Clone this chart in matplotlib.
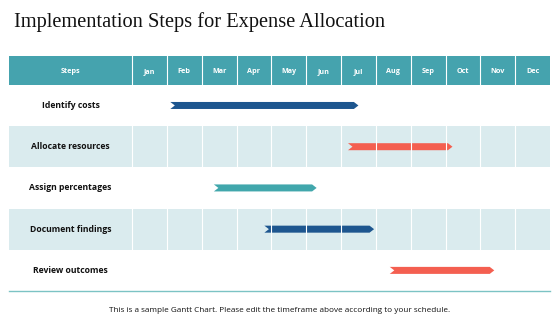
import matplotlib
matplotlib.use("Agg")
import matplotlib.pyplot as plt
from matplotlib.patches import Rectangle, Polygon

months = ["Jan", "Feb", "Mar", "Apr", "May", "Jun", "Jul", "Aug", "Sep", "Oct", "Nov", "Dec"]
steps = ["Identify costs", "Allocate resources", "Assign percentages", "Document findings", "Review outcomes"]
start = [1.1, 6.2, 2.35, 3.8, 7.4]
end = [6.5, 9.2, 5.3, 6.95, 10.4]
colors = ["#1D568F", "#F45F50", "#41A7AC", "#1D568F", "#F45F50"]

title = "Implementation Steps for Expense Allocation"
footer = "This is a sample Gantt Chart. Please edit the timeframe above according to your schedule."

HEAD = "#45A3AE"
LIGHT = "#DAEBEE"

fig = plt.figure(figsize=(5.6, 3.15), dpi=100)
W, H = 560, 315
left_px, right_px, top_px, bot_px = 9, 550, 56, 291
ax = fig.add_axes([left_px / W, 1 - bot_px / H, (right_px - left_px) / W, (bot_px - top_px) / H])
month_w = (right_px - 132) / 12.0
steps_w = (132 - left_px) / month_w
head_h = 0.70
ax.set_xlim(-steps_w, 12)
ax.set_ylim(len(steps), -head_h)
ax.axis("off")

# header
base_y = -head_h / 2 + 0.065
ax.add_patch(Rectangle((-steps_w, -head_h), steps_w + 12, head_h, color=HEAD, lw=0))
ax.text(-steps_w / 2, base_y, "Steps", color="white", fontsize=5.2, fontweight="bold",
        ha="center", va="baseline", family="Open Sans")
for i, m in enumerate(months):
    ax.text(i + 0.5, base_y, m, color="white", fontsize=5.2, fontweight="bold",
            ha="center", va="baseline", family="Open Sans")

# rows
for r, s in enumerate(steps):
    if r % 2 == 1:
        ax.add_patch(Rectangle((-steps_w, r), steps_w + 12, 1, color=LIGHT, lw=0))
        for i in range(12):
            ax.plot([i, i], [r, r + 1], color="white", lw=0.8)
    ax.text(-steps_w / 2, r + 0.5, s, fontsize=6.2, fontweight="bold", ha="center", va="center",
            family="Open Sans", color="#111111")

# header dividers
for i in range(12):
    ax.plot([i, i], [-head_h, 0], color="white", lw=0.8)

# bottom line
ax.plot([-steps_w, 12], [len(steps), len(steps)], color="#7CC3C4", lw=1.0, clip_on=False)

# chevron bars
bh = 0.17
tip = 0.13
for r in range(len(steps)):
    y = r + 0.5
    x0, x1 = start[r], end[r]
    pts = [(x0, y - bh / 2), (x1 - tip, y - bh / 2), (x1, y), (x1 - tip, y + bh / 2),
           (x0, y + bh / 2), (x0 + tip, y)]
    ax.add_patch(Polygon(pts, closed=True, color=colors[r], lw=0))

fig.text(14 / W, 1 - 22 / H, title, fontsize=14.7, family="Liberation Serif", ha="left", va="center",
         color="#111111")
fig.text(0.5, 1 - 310 / H, footer, fontsize=5.9, family="Open Sans", ha="center", va="center",
         color="#111111")

fig.savefig("out.png", dpi=100)
